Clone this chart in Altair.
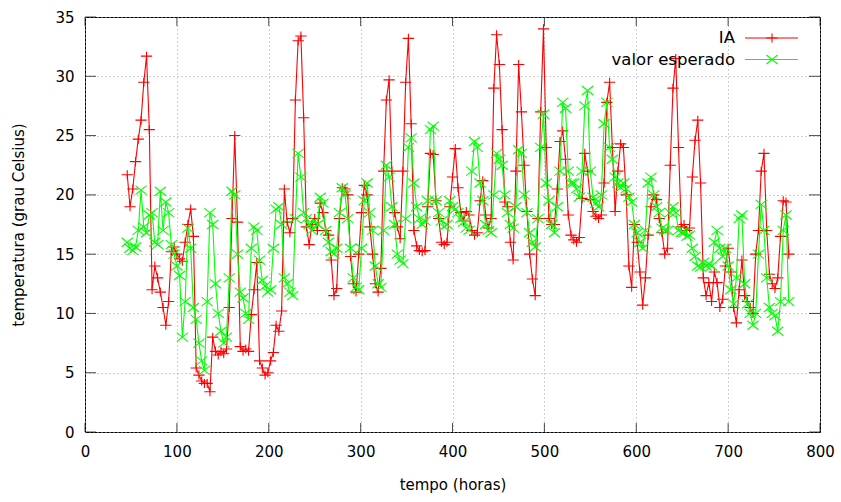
import altair as alt
import pandas as pd

# ---------------- data ----------------
hours = list(range(46, 767, 3))

ia = [
    21.7, 19.0, 20.5, 22.8, 24.7, 26.3, 29.5, 31.7, 25.5, 12.0,
    14.0, 13.0, 11.8, 10.5, 9.0, 11.0, 15.2, 15.6, 15.0, 14.6,
    14.4, 16.0, 17.5, 18.8, 16.5, 5.4, 4.8, 4.3, 4.1, 4.1,
    3.4, 8.0, 6.8, 6.5, 6.8, 6.6, 7.0, 10.5, 18.0, 25.0,
    17.7, 7.2, 6.8, 7.0, 6.8, 9.9, 12.0, 14.3, 6.0, 5.4,
    4.8, 5.0, 6.0, 6.7, 9.0, 8.5, 10.2, 20.5, 17.7, 16.8,
    18.0, 28.0, 33.0, 33.4, 26.5, 17.3, 15.8, 17.5, 18.0, 17.0,
    19.3, 18.5, 17.0, 16.6, 14.5, 11.5, 12.1, 18.0, 20.6, 20.5,
    20.0, 14.8, 12.5, 11.8, 15.0, 18.5, 20.8, 20.0, 17.3, 15.0,
    12.5, 11.8, 13.8, 22.0, 28.0, 29.7, 22.0, 18.5, 17.3, 16.3,
    22.0, 29.5, 33.2, 26.0, 17.0, 15.7, 15.3, 15.2, 15.3, 19.0,
    23.5, 23.4, 19.5, 18.0, 16.0, 15.8, 16.0, 19.0, 21.5, 23.9,
    20.6, 18.5, 17.8, 18.6, 18.3, 17.0, 16.6, 16.8, 19.5, 21.2,
    18.3, 17.2, 18.0, 29.0, 33.5, 31.0, 25.5, 19.4, 19.0, 16.0,
    14.5, 22.0, 31.0, 27.0, 22.5, 18.6, 15.0, 12.9, 11.5, 18.0,
    27.0, 34.0, 24.0, 18.0, 17.5, 17.5, 20.5, 24.5, 25.4, 23.0,
    18.3, 16.6, 16.2, 16.0, 16.4, 19.7, 23.5, 22.0, 19.6, 18.6,
    18.2, 18.0, 18.3, 21.0, 27.8, 29.5, 24.0, 18.6, 22.0, 24.3,
    24.0, 20.0, 14.0, 12.2, 17.5, 16.0, 13.5, 10.7, 13.0, 16.6,
    19.0, 20.0, 19.6, 18.0, 16.8, 15.0, 15.5, 22.5, 29.0, 31.5,
    24.0, 17.3, 17.5, 17.0, 17.2, 21.5, 24.6, 26.3, 21.0, 13.0,
    11.5, 12.6, 11.0, 13.5, 12.6, 10.5, 11.2, 14.0, 15.5, 13.5,
    10.5, 9.2, 12.0, 14.5, 11.5, 11.0, 10.5, 10.0, 15.0, 17.0,
    22.0, 23.5, 17.0, 13.3, 12.5, 12.1, 13.0, 16.5, 19.5, 19.4,
    15.0,
]

esperado = [
    16.0, 15.5, 15.3, 15.6, 17.0, 20.4, 17.3, 16.8, 18.3, 18.5,
    16.0, 15.8, 20.3, 17.0, 19.4, 18.5, 15.8, 15.0, 14.0, 13.2,
    8.0, 11.0, 17.2, 15.5, 10.5, 9.5, 7.5, 6.0, 5.2, 11.0,
    18.5, 17.5, 12.5, 10.0, 8.5, 7.5, 8.0, 13.0, 20.3, 20.0,
    15.0, 11.8, 11.3, 10.0, 9.5, 15.5, 17.3, 17.0, 14.5, 12.8,
    12.3, 11.8, 12.0, 15.5, 18.8, 19.0, 17.5, 13.0, 12.5, 11.8,
    11.5, 18.0, 23.5, 21.5, 18.5, 18.0, 17.5, 17.0, 17.8, 17.5,
    19.8, 19.3, 17.0, 16.0, 15.2, 15.0, 15.5, 18.5, 20.6, 20.0,
    18.0, 15.5, 13.0, 12.2, 12.0, 15.5, 19.5, 21.0, 18.5, 17.0,
    14.0, 12.5, 12.2, 17.0, 22.5, 21.5, 19.0, 17.5, 15.0, 14.5,
    14.2, 18.0, 24.0, 24.8, 21.0, 19.0, 18.0, 17.5, 17.8, 19.5,
    25.5, 25.8, 19.5, 18.5, 17.8, 17.3, 17.5, 19.5, 19.0, 18.8,
    18.5, 18.0, 17.7, 17.2, 17.0, 22.0, 24.5, 24.0, 21.0, 19.5,
    17.5, 17.0, 16.8, 20.0, 23.5, 23.0, 22.5, 20.0, 18.5, 17.5,
    17.2, 19.0, 23.8, 23.5, 20.0, 18.5, 16.8, 16.0, 15.6, 18.0,
    24.0, 26.8, 21.0, 19.5, 17.5, 16.8, 19.0, 22.0, 27.8, 27.3,
    22.0, 21.0, 21.0, 20.5, 19.8, 22.0, 27.5, 28.8, 22.0, 19.8,
    19.3, 19.0, 20.0, 26.0, 27.8, 24.0, 23.0, 21.5, 21.0, 20.6,
    21.0, 20.5, 19.8, 19.4, 17.5, 16.8, 16.0, 15.5, 17.0, 21.0,
    21.5, 20.0, 19.0, 18.5, 17.2, 17.0, 17.0, 18.5, 19.0, 18.5,
    17.0, 16.8, 16.8, 16.5, 16.6, 15.5, 14.8, 14.0, 13.9, 14.3,
    14.0, 14.2, 14.0, 16.0, 17.0, 15.5, 14.8, 15.5, 14.0, 12.0,
    10.8, 13.0, 18.0, 18.3, 12.5, 10.8, 10.0, 9.0, 10.0, 15.0,
    19.2, 17.0, 13.0, 10.5, 10.0, 9.8, 8.5, 11.0, 17.0, 18.3,
    11.0,
]

x_ticks = [0, 100, 200, 300, 400, 500, 600, 700, 800]
y_ticks = [0, 5, 10, 15, 20, 25, 30, 35]
series_names = ["IA", "valor esperado"]
series_colors = ["#ff0000", "#00ff00"]

# ---------------- layout / style ----------------
W, H = 735, 415
FONT = "DejaVu Sans"
PLUS = "M-1.25,0L1.25,0M0,-1L0,1"
CROSS = "M-1.25,-1L1.25,1M-1.25,1L1.25,-1"
shapes = [PLUS, CROSS]
MSIZE = 81

df = pd.DataFrame({"tempo": hours, "IA": ia, "valor esperado": esperado})
long = df.melt("tempo", var_name="serie", value_name="temp")

xs = alt.Scale(domain=[0, 800], nice=False, zero=False)
ys = alt.Scale(domain=[0, 35], nice=False, zero=False)

x_axis = alt.Axis(
    values=x_ticks, grid=True, gridColor="#a0a0a0", gridDash=[1, 3], gridWidth=1,
    ticks=False, tickSize=0, domain=False, labelFlush=False,
    labelFont=FONT, labelFontSize=15, labelColor="#000", labelPadding=12,
    title="tempo (horas)", titleFont=FONT, titleFontSize=15, titleFontWeight="normal",
    titleColor="#000", titleX=W / 2, titleY=52, titleAlign="center", titleBaseline="middle",
)
y_axis = alt.Axis(
    values=y_ticks, grid=True, gridColor="#a0a0a0", gridDash=[1, 3], gridWidth=1,
    ticks=False, tickSize=0, domain=False, labelFlush=False,
    labelFont=FONT, labelFontSize=15, labelColor="#000", labelPadding=11,
    title="temperatura (grau Celsius)", titleFont=FONT, titleFontSize=15,
    titleFontWeight="normal", titleColor="#000", titleX=-67, titleY=H / 2,
    titleAngle=270, titleAlign="center", titleBaseline="middle",
)

X = alt.X("tempo:Q", scale=xs, axis=x_axis)
Y = alt.Y("temp:Q", scale=ys, axis=y_axis)

layers = []
for name, color, shp in zip(series_names, series_colors, shapes):
    base = alt.Chart(long).transform_filter(alt.datum.serie == name)
    layers.append(base.mark_line(color=color, strokeWidth=1.1).encode(x=X, y=Y))
    layers.append(
        base.mark_point(shape=shp, color=color, size=MSIZE, strokeWidth=1.1,
                        filled=False, opacity=1).encode(x=X, y=Y)
    )

# inward tick marks (gnuplot style, mirrored)
xt = pd.DataFrame({"tempo": x_ticks})
yt = pd.DataFrame({"temp": y_ticks})
tick_color = "#000"
layers.append(alt.Chart(xt).mark_tick(orient="vertical", size=9, thickness=1, color=tick_color)
              .encode(x=X, y=alt.value(H - 4.5)))
layers.append(alt.Chart(xt).mark_tick(orient="vertical", size=9, thickness=1, color=tick_color)
              .encode(x=X, y=alt.value(4.5)))
layers.append(alt.Chart(yt).mark_tick(orient="horizontal", size=11, thickness=1, color=tick_color)
              .encode(y=Y, x=alt.value(5.5)))
layers.append(alt.Chart(yt).mark_tick(orient="horizontal", size=11, thickness=1, color=tick_color)
              .encode(y=Y, x=alt.value(W - 5.5)))

# legend (gnuplot key: text right-aligned, then sample line with marker)
for i, (name, color, shp) in enumerate(zip(series_names, series_colors, shapes)):
    ly = 21 + 21.5 * i
    ldf = pd.DataFrame({"serie": [name]})
    layers.append(alt.Chart(ldf).mark_text(align="right", baseline="middle", font=FONT,
                                           fontSize=16.5, color="#000")
                  .encode(text="serie:N", x=alt.value(650), y=alt.value(ly)))
    layers.append(alt.Chart(ldf).mark_rule(color=color, strokeWidth=1.1)
                  .encode(x=alt.value(660), x2=alt.value(713), y=alt.value(ly)))
    layers.append(alt.Chart(ldf).mark_point(shape=shp, color=color, size=MSIZE, strokeWidth=1.1,
                                            filled=False, opacity=1)
                  .encode(x=alt.value(687), y=alt.value(ly)))

chart = alt.layer(*layers).properties(
    width=W, height=H,
    autosize=alt.AutoSizeParams(type="none"),
    padding={"left": 85, "top": 17, "right": 21, "bottom": 70},
    background="white",
).configure_view(stroke="#000", strokeWidth=1)

chart.save("out.html", embed_options={"renderer": "svg", "actions": False})
